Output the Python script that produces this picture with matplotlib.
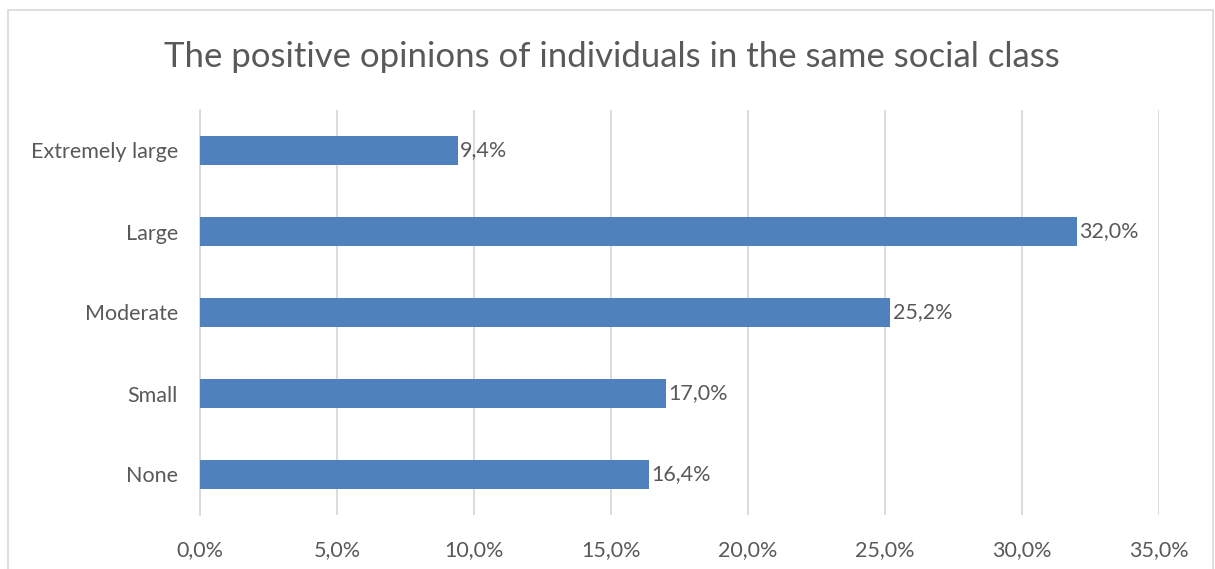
import matplotlib
matplotlib.use("Agg")
import matplotlib.pyplot as plt
from matplotlib.patches import Rectangle

categories = ["None", "Small", "Moderate", "Large", "Extremely large"]
values = [16.4, 17.0, 25.2, 32.0, 9.4]
ticks = [0, 5, 10, 15, 20, 25, 30, 35]
tick_labels = ["0,0%", "5,0%", "10,0%", "15,0%", "20,0%", "25,0%", "30,0%", "35,0%"]
title = "The positive opinions of individuals in the same social class"

plt.rcParams["font.family"] = ["Lato", "DejaVu Sans"]
TEXT = "#595959"
BAR = "#4F81BD"
GRID = "#D9D9D9"
FS = 15.5

W, H = 1215, 569
fig = plt.figure(figsize=(W / 100, H / 100), dpi=100)

# outer chart frame
fig.patches.append(Rectangle((8 / W, -0.05), (1213 - 8) / W, (H - 10) / H + 0.05,
                             transform=fig.transFigure, fill=False,
                             edgecolor=GRID, linewidth=1.2))

left, right, top, bottom = 200, 1159, 110, 515
ax = fig.add_axes([left / W, 1 - bottom / H, (right - left) / W, (bottom - top) / H])

y = list(range(len(categories)))
ax.barh(y, values, height=0.36, color=BAR, zorder=3)
for yi, v in zip(y, values):
    ax.text(v + 0.08, yi, f"{v:.1f}%".replace(".", ","), va="center", ha="left",
            fontsize=FS, color=TEXT, zorder=4)

ax.set_xlim(0, 35)
ax.set_ylim(-0.5, len(categories) - 0.5)
ax.set_xticks(ticks)
ax.set_xticklabels(tick_labels, fontsize=FS, color=TEXT)
ax.set_yticks(y)
ax.set_yticklabels(categories, fontsize=FS, color=TEXT)
ax.tick_params(axis="both", length=0)
ax.tick_params(axis="x", pad=18)
ax.tick_params(axis="y", pad=16)
ax.grid(axis="x", color=GRID, linewidth=1.3, zorder=0)
for s in ["top", "right", "bottom"]:
    ax.spines[s].set_visible(False)
ax.spines["left"].set_color(GRID)
ax.spines["left"].set_linewidth(1.3)

fig.text(612 / W, 1 - 57 / H, title, ha="center", va="center",
         fontsize=25, color=TEXT)

fig.savefig("out.png", dpi=100, facecolor="white")
